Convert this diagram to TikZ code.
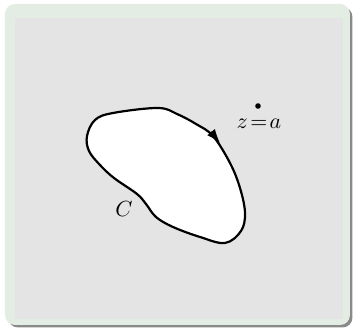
\documentclass[tikz,border=0pt]{standalone}
\usetikzlibrary{arrows.meta}
\definecolor{outerbg}{HTML}{E3EDE4}
\definecolor{innerbg}{HTML}{E4E4E4}
\definecolor{shadowc}{HTML}{8A8A8A}
\tikzset{
  curveline/.style={line width=1.1pt, line join=round},
  lbl/.style={inner sep=0pt, font=\fontsize{11}{13}\selectfont}
}
\begin{document}
\begin{tikzpicture}[x=0.5pt,y=-0.5pt]
\useasboundingbox (0,0) rectangle (355,330);
\fill[shadowc, rounded corners=5pt] (8,7) rectangle (352.5,327.5);
\fill[outerbg, rounded corners=5pt] (5,4) rectangle (350,325);
\fill[innerbg] (15,18) rectangle (343,319);
\draw[curveline, fill=white] plot[smooth cycle, tension=0.6] coordinates {
  (87,136) (95,120) (113,113) (158,108) (177,114) (196,124) (213,136)
  (230,163) (240,188) (245,213) (241,231) (225,243) (200,237) (173,227)
  (156,217) (146,204) (137,194) (114,178) (100,165) (89,151)};
\draw[-{Latex[length=7pt,width=5pt]}, line width=0.8pt] (211,132) -- (220,143);
\fill (258,106) circle (2.8);
\node[lbl] (za) at (259,124) {$z\!=\!a$};
\node[lbl] (c) at (124,209) {$C$};
\end{tikzpicture}
\end{document}
